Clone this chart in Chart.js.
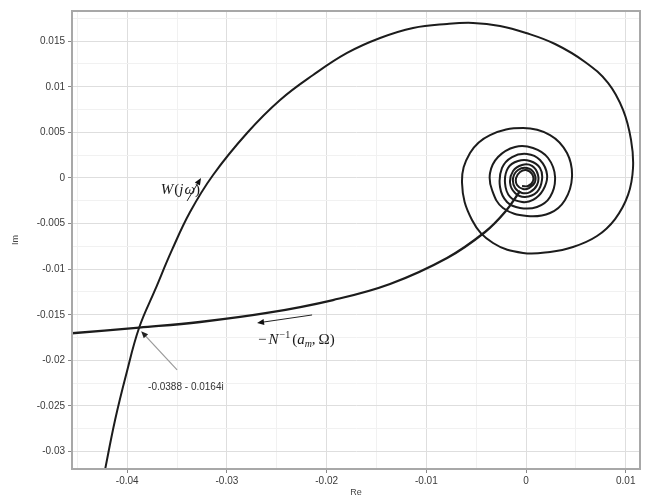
<!DOCTYPE html>
<html>
<head>
<meta charset="utf-8">
<script src="https://cdn.jsdelivr.net/npm/chart.js@4"></script>
<style>
  body { margin: 0; background: #fff; }
</style>
</head>
<body>
<canvas id="nyq" width="645" height="502"></canvas>
<script>
// intersection of W(jw) with -1/N(a_m, Omega)
const crossRe = -0.0388;
const crossIm = -0.0164;

// W(jw): branch from below, big loop, then the spiral into the origin
const wRe = [-0.04233, -0.04122, -0.04012, crossRe, -0.03721, -0.03551, -0.03370, -0.03139, -0.02798, -0.02467,
  -0.02136, -0.01795, -0.01464, -0.01133, -0.00792, -0.00532, -0.00261, 0, 0.00291, 0.00592,
  0.00822, 0.00973, 0.01053, 0.01073, 0.01023, 0.00893, 0.00712, 0.00471, 0.00241, -0.0003,
  -0.00331, -0.00542, -0.00642, -0.00562, -0.00361, -0.0003, 0.00241, 0.00411, 0.00461, 0.00391, 0.00241, 0.0001,
  -0.00231, -0.00341, -0.00361, -0.00281, -0.0011, 0.0007, 0.00221, 0.00291, 0.00241, 0.0011, -0.0006,
  -0.00191, -0.00261, -0.00241, -0.0014, 0.0001, 0.0014, 0.00211, 0.00171, 0.0007, -0.0004,
  -0.0016, -0.00211, -0.00181, -0.0008, 0.0004, 0.0014, 0.0016, 0.0011, -0.0001,
  -0.0011, -0.0016, -0.0013, -0.0004, 0.0006, 0.0012, 0.0011, 0.0004, -0.0004,
  -0.0011, -0.0013, -0.0008, 0.0001, 0.0008, 0.0009, 0.0003, -0.0003,
  -0.0009, -0.001, -0.0006, 0, 0.0006, 0.0007, 0.0002, -0.0004];
const wIm = [-0.03257, -0.02654, -0.0216, crossIm, -0.01228, -0.00789, -0.00373, 0.00033, 0.00493, 0.00855,
  0.01129, 0.01371, 0.01535, 0.01645, 0.01689, 0.017, 0.01667, 0.0159, 0.01469, 0.01272,
  0.01042, 0.00746, 0.00417, 0.0011, -0.00186, -0.0045, -0.00636, -0.00757, -0.00811, -0.00822,
  -0.00713, -0.00461, -0.00055, 0.00274, 0.00471, 0.00548, 0.00471, 0.00274, 0.00011, -0.00241, -0.00384, -0.00417,
  -0.00329, -0.00132, 0.00055, 0.0023, 0.0034, 0.00329, 0.00219, 0.00011, -0.00208, -0.00318, -0.00329,
  -0.00263, -0.00099, 0.0011, 0.0023, 0.00263, 0.00197, 0.00033, -0.00132, -0.00241, -0.00263,
  -0.00208, -0.00055, 0.0011, 0.00186, 0.00186, 0.0011, -0.00022, -0.00154, -0.00208,
  -0.00164, -0.00055, 0.00077, 0.00143, 0.00132, 0.00033, -0.00077, -0.00154, -0.00164,
  -0.0011, 0, 0.00088, 0.0011, 0.00055, -0.00044, -0.0011, -0.00121,
  -0.00077, 0, 0.00066, 0.00088, 0.00044, -0.00033, -0.00088, -0.00088];

// -1/N(a_m, Omega) describing function locus
const nRe = [-0.0458, crossRe, -0.0327, -0.02598, -0.01936, -0.01364, -0.00792, -0.00411, -0.00211, -0.0006];
const nIm = [-0.01705, crossIm, -0.01579, -0.0148, -0.01338, -0.01162, -0.00877, -0.00592, -0.00373, -0.00143];

// axis ticks (major labelled, minor only gridded)
const xMajor = [-0.04, -0.03, -0.02, -0.01, 0, 0.01];
const xLabels = ['-0.04', '-0.03', '-0.02', '-0.01', '0', '0.01'];
const xMinor = [-0.045, -0.035, -0.025, -0.015, -0.005, 0.005];
const yMajor = [-0.03, -0.025, -0.02, -0.015, -0.01, -0.005, 0, 0.005, 0.01, 0.015];
const yLabels = ['-0.03', '-0.025', '-0.02', '-0.015', '-0.01', '-0.005', '0', '0.005', '0.01', '0.015'];
const yMinor = [-0.0275, -0.0225, -0.0175, -0.0125, -0.0075, -0.0025, 0.0025, 0.0075, 0.0125, 0.0175];

const toPts = (re, im) => re.map((v, i) => ({ x: v, y: im[i] }));

// label / arrow placement in data units
const notes = {
  wText: { x: -0.0327, y: -0.0013 },
  wArrow: { from: [-0.0340, -0.00252], to: [-0.0326, 0] },
  nText: { x: -0.02688, y: -0.01776 },
  nArrow: { from: [-0.02146, -0.01502], to: [-0.02698, -0.0159] },
  crossText: { x: -0.03791, y: -0.02292 },
  crossArrow: { from: [-0.0350, -0.02105], to: [-0.0386, -0.0168] }
};

const serif = '"Liberation Serif", "DejaVu Serif", serif';

function drawRuns(c, x, y, runs, align) {
  let w = 0;
  runs.forEach(r => { c.font = r.font; w += c.measureText(r.t).width + (r.gap || 0); });
  let cx = align === 'right' ? x - w : x;
  c.textAlign = 'left';
  runs.forEach(r => {
    c.font = r.font;
    c.fillText(r.t, cx, y + (r.dy || 0));
    cx += c.measureText(r.t).width + (r.gap || 0);
  });
}

function arrow(c, x0, y0, x1, y1, lineCol, headCol, lw) {
  const a = Math.atan2(y1 - y0, x1 - x0);
  const hl = 7, hw = 3;
  c.strokeStyle = lineCol;
  c.lineWidth = lw;
  c.beginPath();
  c.moveTo(x0, y0);
  c.lineTo(x1 - Math.cos(a) * hl * 0.8, y1 - Math.sin(a) * hl * 0.8);
  c.stroke();
  c.fillStyle = headCol;
  c.beginPath();
  c.moveTo(x1, y1);
  c.lineTo(x1 - Math.cos(a) * hl - Math.sin(a) * hw, y1 - Math.sin(a) * hl + Math.cos(a) * hw);
  c.lineTo(x1 - Math.cos(a) * hl + Math.sin(a) * hw, y1 - Math.sin(a) * hl - Math.cos(a) * hw);
  c.closePath();
  c.fill();
}

const annotations = {
  id: 'annotations',
  afterDatasetsDraw(chart) {
    const c = chart.ctx;
    const sx = chart.scales.x, sy = chart.scales.y;
    const px = v => sx.getPixelForValue(v);
    const py = v => sy.getPixelForValue(v);
    const area = chart.chartArea;
    c.save();

    // box around the axes
    c.strokeStyle = '#a8a8a8';
    c.lineWidth = 2;
    c.strokeRect(area.left, area.top, area.right - area.left, area.bottom - area.top);

    c.fillStyle = '#1a1a1a';
    c.textBaseline = 'middle';
    const it = 'italic 15px ' + serif, rm = '15px ' + serif;
    const small = '10px ' + serif, smallIt = 'italic 10px ' + serif;

    drawRuns(c, px(notes.wText.x), py(notes.wText.y), [
      { t: 'W', font: it, gap: 1 }, { t: '(', font: rm }, { t: 'j', font: it, gap: 1 },
      { t: 'ω', font: it }, { t: ')', font: rm }
    ], 'right');

    drawRuns(c, px(notes.nText.x), py(notes.nText.y), [
      { t: '−', font: rm, gap: 2 }, { t: 'N', font: it, gap: 1 }, { t: '−1', font: small, dy: -5, gap: 2 },
      { t: '(', font: rm }, { t: 'a', font: it }, { t: 'm', font: smallIt, dy: 4 },
      { t: ',', font: rm, gap: 3 }, { t: 'Ω', font: rm }, { t: ')', font: rm }
    ], 'left');

    const wa = notes.wArrow, na = notes.nArrow, ca = notes.crossArrow;
    arrow(c, px(wa.from[0]), py(wa.from[1]), px(wa.to[0]), py(wa.to[1]), '#222', '#111', 1);
    arrow(c, px(na.from[0]), py(na.from[1]), px(na.to[0]), py(na.to[1]), '#222', '#111', 1);
    arrow(c, px(ca.from[0]), py(ca.from[1]), px(ca.to[0]), py(ca.to[1]), '#9a9a9a', '#222', 1.2);

    c.font = '10px "Liberation Sans", Arial, sans-serif';
    c.fillStyle = '#333';
    c.textAlign = 'left';
    c.fillText(crossRe + ' - ' + (-crossIm) + 'i', px(notes.crossText.x), py(notes.crossText.y));
    c.restore();
  }
};

const allTicks = (major, minor) => major.concat(minor).sort((a, b) => a - b).map(v => ({ value: v }));
const tickFont = { family: '"Liberation Sans", Arial, sans-serif', size: 10 };

new Chart(document.getElementById('nyq'), {
  type: 'scatter',
  data: {
    datasets: [
      { data: toPts(wRe, wIm), showLine: true, borderColor: '#1c1c1c', borderWidth: 2, pointRadius: 0, tension: 0.4 },
      { data: toPts(nRe, nIm), showLine: true, borderColor: '#1c1c1c', borderWidth: 2.3, pointRadius: 0, tension: 0.4 }
    ]
  },
  options: {
    responsive: false,
    animation: false,
    layout: { padding: { top: 11, right: 5, left: 0, bottom: 0 } },
    plugins: { legend: { display: false }, tooltip: { enabled: false } },
    scales: {
      x: {
        type: 'linear',
        min: -0.04554,
        max: 0.01143,
        afterBuildTicks: s => { s.ticks = allTicks(xMajor, xMinor); },
        afterFit: s => { s.height = 33; },
        ticks: {
          autoSkip: false, maxRotation: 0, color: '#3a3a3a', font: tickFont, padding: 2,
          callback: v => { const i = xMajor.indexOf(v); return i < 0 ? '' : xLabels[i]; }
        },
        grid: {
          color: c => xMajor.includes(c.tick.value) ? '#dedede' : '#f1f1f1',
          tickColor: c => xMajor.includes(c.tick.value) ? '#888' : 'rgba(0,0,0,0)',
          tickLength: 4
        },
        border: { color: '#a8a8a8', width: 2 },
        title: { display: true, text: 'Re', color: '#444', font: { family: tickFont.family, size: 9 }, padding: { top: 0, bottom: 4 } }
      },
      y: {
        type: 'linear',
        min: -0.03191,
        max: 0.01831,
        afterBuildTicks: s => { s.ticks = allTicks(yMajor, yMinor); },
        afterFit: s => { s.width = 72; },
        ticks: {
          autoSkip: false, color: '#3a3a3a', font: tickFont, padding: 3,
          callback: v => { const i = yMajor.indexOf(v); return i < 0 ? '' : yLabels[i]; }
        },
        grid: {
          color: c => yMajor.includes(c.tick.value) ? '#dedede' : '#f1f1f1',
          tickColor: c => yMajor.includes(c.tick.value) ? '#888' : 'rgba(0,0,0,0)',
          tickLength: 4
        },
        border: { color: '#a8a8a8', width: 2 },
        title: { display: true, text: 'Im', color: '#444', font: { family: tickFont.family, size: 9 }, padding: { top: 10, bottom: 4 } }
      }
    }
  },
  plugins: [annotations]
});
</script>
</body>
</html>
